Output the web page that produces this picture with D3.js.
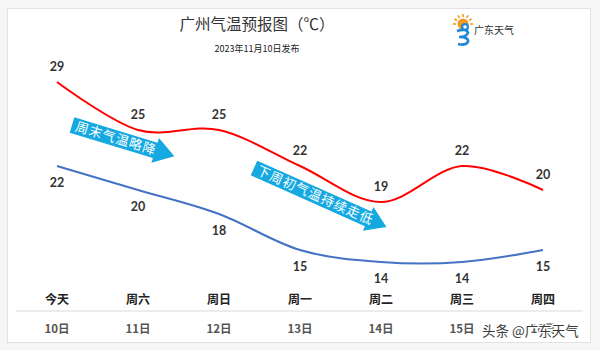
<!DOCTYPE html>
<html><head><meta charset="utf-8">
<script src="https://cdn.jsdelivr.net/npm/d3@7"></script>
<style>body{margin:0;background:#fff}svg{display:block}</style>
</head><body><svg id="c" width="600" height="350"></svg>
<script>
const days = ["今天","周六","周日","周一","周二","周三","周四"];
const dates = ["10日","11日","12日","13日","14日","15日","16日"];
const highs = [29,25,25,22,19,22,20];
const lows = [22,20,18,15,14,14,15];
const title = "广州气温预报图（℃）";
const subtitle = "2023年11月10日发布";
const arrowTexts = ["周末气温略降","下周初气温持续走低"];

const svg = d3.select("#c");
const cjk = "'Noto Sans CJK SC','Noto Sans',sans-serif";
const num = "Lato,'Open Sans',sans-serif";

svg.append("rect").attr("x",0).attr("y",0).attr("width",600).attr("height",350).attr("fill","#f6f6f6");
svg.append("rect").attr("x",7.5).attr("y",8.5).attr("width",583).attr("height",334).attr("fill","#fff").attr("stroke","#e2e2e2");

const x = d3.scalePoint().domain(days).range([57,543]);
const y = d3.scaleLinear().domain([14,29]).range([262,82]);

svg.append("text").attr("x",257).attr("y",30).attr("text-anchor","middle").attr("font-family",cjk)
  .attr("font-size",15.5).attr("fill","#333").text(title);
svg.append("text").attr("x",257).attr("y",52).attr("text-anchor","middle").attr("font-family",cjk)
  .attr("font-size",9).attr("fill","#222").text(subtitle);

// logo
const lg = svg.append("g").attr("transform","translate(463,28)");
for(let i=0;i<7;i++){const a=(-180+i*30)*Math.PI/180;lg.append("line").attr("x1",Math.cos(a)*7).attr("y1",-4+Math.sin(a)*7).attr("x2",Math.cos(a)*10).attr("y2",-4+Math.sin(a)*10).attr("stroke","#f39a1e").attr("stroke-width",1.6);}
lg.append("circle").attr("cx",0).attr("cy",-4).attr("r",5.5).attr("fill","#f39a1e");
lg.append("circle").attr("cx",2).attr("cy",-1).attr("r",4).attr("fill","#1e88d8");
lg.append("circle").attr("cx",2).attr("cy",-1).attr("r",1.8).attr("fill","#fff");
lg.append("path").attr("d","M-6,3 Q4,0 5,5 Q3,9 -4,9 Q6,9 5,14 Q2,18 -5,16").attr("fill","none").attr("stroke","#1e88d8").attr("stroke-width",2.6);
svg.append("text").attr("x",474).attr("y",34).attr("font-family",cjk).attr("font-size",10).attr("fill","#333").text("广东天气");

// arrows
function arrow(x0,yc,len,ang,txt,fs){
  const g = svg.append("g").attr("transform",`translate(${x0},${yc}) rotate(${ang})`);
  const h=8, hw=13, hl=20;
  g.append("path").attr("d",`M0,${-h} L${len-hl},${-h} L${len-hl},${-hw} L${len},0 L${len-hl},${hw} L${len-hl},${h} L0,${h} Z`).attr("fill","#16a9e1");
  g.append("text").attr("x",4).attr("y",4.5).attr("font-family",cjk).attr("font-size",fs).attr("fill","#fff").attr("letter-spacing",1).text(txt);
}
arrow(72,125,107,17,arrowTexts[0],13);
arrow(254,168,145,24,arrowTexts[1],13);

const line = d3.line().x((d,i)=>x(days[i])).y(d=>y(d)).curve(d3.curveCardinal.tension(0));
svg.append("path").datum(highs).attr("d",line).attr("fill","none").attr("stroke","#ff0000").attr("stroke-width",2);
svg.append("path").datum(lows).attr("d",line).attr("fill","none").attr("stroke","#4472c4").attr("stroke-width",2);

svg.selectAll(".hl").data(highs).enter().append("text").attr("x",(d,i)=>x(days[i])).attr("y",d=>y(d)-11)
  .attr("text-anchor","middle").attr("font-family",num).attr("font-weight","bold").attr("font-size",12.5).attr("fill","#333").text(d=>d);
svg.selectAll(".ll").data(lows).enter().append("text").attr("x",(d,i)=>x(days[i])).attr("y",d=>y(d)+21)
  .attr("text-anchor","middle").attr("font-family",num).attr("font-weight","bold").attr("font-size",12.5).attr("fill","#333").text(d=>d);

svg.selectAll(".day").data(days).enter().append("text").attr("x",d=>x(d)).attr("y",304)
  .attr("text-anchor","middle").attr("font-family",cjk).attr("font-weight","bold").attr("font-size",12).attr("fill","#222").text(d=>d);
svg.append("line").attr("x1",16).attr("x2",583).attr("y1",311).attr("y2",311).attr("stroke","#ececec").attr("stroke-width",2);
svg.selectAll(".date").data(dates).enter().append("text").attr("x",(d,i)=>x(days[i])).attr("y",333)
  .attr("text-anchor","middle").attr("font-family",cjk).attr("font-weight","bold").attr("font-size",11.5).attr("fill","#555").text(d=>d);

svg.append("text").attr("x",482).attr("y",336).attr("font-family",cjk).attr("font-size",13.5)
  .attr("fill","#3a3a3a").attr("stroke","#fff").attr("stroke-width",2.5).attr("paint-order","stroke").text("头条 @广东天气");
</script></body></html>
